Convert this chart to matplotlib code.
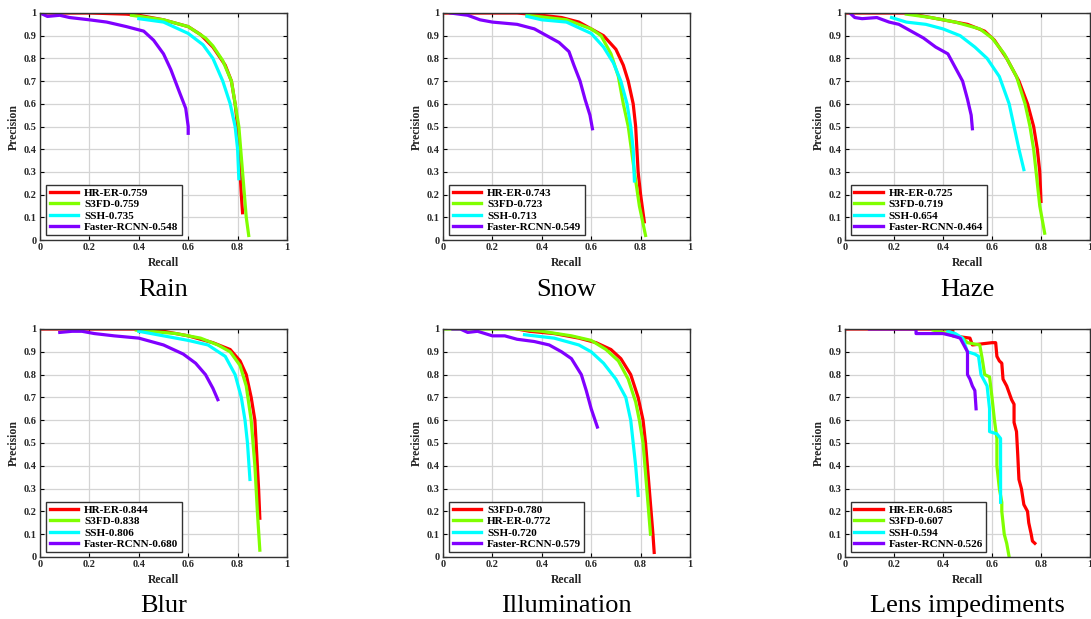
import numpy as np
import matplotlib
matplotlib.use("Agg")
import matplotlib.pyplot as plt

plt.rcParams['font.family'] = ['Liberation Serif', 'DejaVu Serif']

# panel captions
captions = ["Rain", "Snow", "Haze", "Blur", "Illumination", "Lens impediments"]

# legend labels per panel (red, green, cyan, purple)
labels_rain = ["HR-ER-0.759", "S3FD-0.759", "SSH-0.735", "Faster-RCNN-0.548"]
labels_snow = ["HR-ER-0.743", "S3FD-0.723", "SSH-0.713", "Faster-RCNN-0.549"]
labels_haze = ["HR-ER-0.725", "S3FD-0.719", "SSH-0.654", "Faster-RCNN-0.464"]
labels_blur = ["HR-ER-0.844", "S3FD-0.838", "SSH-0.806", "Faster-RCNN-0.680"]
labels_illum = ["S3FD-0.780", "HR-ER-0.772", "SSH-0.720", "Faster-RCNN-0.579"]
labels_lens = ["HR-ER-0.685", "S3FD-0.607", "SSH-0.594", "Faster-RCNN-0.526"]

# (recall, precision) points
rain_red = [(0, 1.0), (0.2, 1.0), (0.35, 0.995), (0.4, 0.99), (0.5, 0.97), (0.6, 0.94), (0.65, 0.905),
            (0.7, 0.85), (0.75, 0.77), (0.775, 0.7), (0.79, 0.6), (0.8, 0.5), (0.81, 0.3), (0.815, 0.2), (0.82, 0.12)]
rain_green = [(0.37, 0.99), (0.5, 0.97), (0.6, 0.94), (0.67, 0.89), (0.7, 0.855), (0.74, 0.79), (0.775, 0.7),
              (0.79, 0.6), (0.805, 0.5), (0.82, 0.3), (0.835, 0.1), (0.845, 0.02)]
rain_cyan = [(0.4, 0.975), (0.5, 0.96), (0.6, 0.91), (0.66, 0.86), (0.7, 0.8), (0.74, 0.7), (0.77, 0.6),
             (0.79, 0.5), (0.8, 0.4), (0.805, 0.27)]
rain_purple = [(0, 1.0), (0.03, 0.985), (0.08, 0.99), (0.12, 0.98), (0.2, 0.97), (0.27, 0.96), (0.35, 0.94),
               (0.42, 0.92), (0.46, 0.88), (0.5, 0.82), (0.53, 0.75), (0.565, 0.65), (0.59, 0.58), (0.6, 0.5), (0.6, 0.47)]

snow_red = [(0, 1.0), (0.3, 1.0), (0.4, 0.99), (0.48, 0.98), (0.55, 0.96), (0.6, 0.93), (0.65, 0.9),
            (0.7, 0.84), (0.73, 0.77), (0.75, 0.7), (0.77, 0.6), (0.78, 0.5), (0.79, 0.3), (0.8, 0.2), (0.815, 0.08)]
snow_green = [(0.34, 0.99), (0.5, 0.97), (0.6, 0.93), (0.64, 0.9), (0.68, 0.82), (0.71, 0.72), (0.73, 0.6),
              (0.75, 0.5), (0.775, 0.3), (0.795, 0.15), (0.82, 0.02)]
snow_cyan = [(0.34, 0.985), (0.4, 0.97), (0.5, 0.96), (0.6, 0.91), (0.65, 0.85), (0.69, 0.78), (0.72, 0.7),
             (0.745, 0.6), (0.76, 0.5), (0.77, 0.4), (0.775, 0.26)]
snow_purple = [(0.03, 1.0), (0.1, 0.99), (0.15, 0.97), (0.2, 0.96), (0.3, 0.95), (0.37, 0.93), (0.42, 0.9),
               (0.47, 0.87), (0.51, 0.83), (0.53, 0.77), (0.555, 0.7), (0.575, 0.62), (0.595, 0.55), (0.605, 0.49)]

haze_red = [(0, 1.0), (0.25, 1.0), (0.3, 0.99), (0.4, 0.97), (0.5, 0.95), (0.57, 0.92), (0.61, 0.88),
            (0.66, 0.8), (0.71, 0.7), (0.745, 0.6), (0.77, 0.5), (0.785, 0.4), (0.795, 0.3), (0.8, 0.17)]
haze_green = [(0.25, 0.995), (0.35, 0.98), (0.45, 0.96), (0.55, 0.93), (0.6, 0.89), (0.65, 0.82), (0.7, 0.72),
              (0.735, 0.6), (0.755, 0.5), (0.77, 0.4), (0.78, 0.3), (0.795, 0.15), (0.815, 0.03)]
haze_cyan = [(0.19, 0.98), (0.25, 0.96), (0.33, 0.95), (0.4, 0.93), (0.47, 0.9), (0.53, 0.85), (0.58, 0.8),
             (0.63, 0.72), (0.67, 0.6), (0.69, 0.5), (0.71, 0.4), (0.73, 0.31)]
haze_purple = [(0.02, 1.0), (0.04, 0.98), (0.07, 0.975), (0.13, 0.98), (0.18, 0.96), (0.22, 0.95), (0.27, 0.92),
               (0.32, 0.89), (0.37, 0.85), (0.42, 0.82), (0.45, 0.76), (0.48, 0.7), (0.5, 0.62), (0.515, 0.55), (0.52, 0.49)]

blur_red = [(0, 1.0), (0.38, 1.0), (0.5, 0.99), (0.6, 0.97), (0.7, 0.94), (0.77, 0.91), (0.81, 0.86),
            (0.835, 0.8), (0.855, 0.7), (0.87, 0.6), (0.875, 0.5), (0.885, 0.3), (0.89, 0.17)]
blur_green = [(0.39, 0.995), (0.55, 0.98), (0.65, 0.96), (0.72, 0.93), (0.77, 0.9), (0.81, 0.84), (0.835, 0.75),
              (0.855, 0.6), (0.87, 0.4), (0.88, 0.2), (0.89, 0.03)]
blur_cyan = [(0.4, 0.99), (0.5, 0.97), (0.6, 0.95), (0.68, 0.93), (0.75, 0.88), (0.79, 0.8), (0.815, 0.7),
             (0.83, 0.6), (0.84, 0.5), (0.85, 0.34)]
blur_purple = [(0.08, 0.985), (0.13, 0.99), (0.17, 0.99), (0.22, 0.98), (0.3, 0.97), (0.4, 0.96), (0.5, 0.93),
               (0.58, 0.89), (0.63, 0.85), (0.67, 0.8), (0.7, 0.74), (0.72, 0.69)]

illum_red = [(0.3, 1.0), (0.35, 0.99), (0.45, 0.98), (0.55, 0.96), (0.62, 0.94), (0.68, 0.91), (0.72, 0.87),
             (0.76, 0.8), (0.79, 0.7), (0.81, 0.6), (0.82, 0.5), (0.835, 0.3), (0.85, 0.1), (0.855, 0.02)]
illum_green = [(0, 1.0), (0.3, 1.0), (0.4, 0.99), (0.52, 0.97), (0.6, 0.95), (0.66, 0.91), (0.71, 0.86),
               (0.75, 0.78), (0.78, 0.68), (0.795, 0.6), (0.81, 0.5), (0.825, 0.3), (0.84, 0.1)]
illum_cyan = [(0.33, 0.975), (0.45, 0.96), (0.55, 0.93), (0.6, 0.9), (0.65, 0.85), (0.7, 0.78), (0.74, 0.7),
              (0.76, 0.6), (0.77, 0.5), (0.78, 0.4), (0.79, 0.27)]
illum_purple = [(0.04, 1.0), (0.07, 1.0), (0.1, 0.985), (0.14, 0.99), (0.2, 0.97), (0.25, 0.97), (0.3, 0.955),
                (0.37, 0.945), (0.43, 0.93), (0.48, 0.9), (0.52, 0.87), (0.56, 0.8), (0.58, 0.73), (0.6, 0.65), (0.625, 0.57)]

lens_red = [(0, 1.0), (0.44, 1.0), (0.44, 0.97), (0.51, 0.96), (0.52, 0.93), (0.56, 0.935), (0.6, 0.94),
            (0.615, 0.94), (0.62, 0.88), (0.63, 0.86), (0.64, 0.85), (0.645, 0.78), (0.66, 0.75), (0.67, 0.72),
            (0.68, 0.69), (0.69, 0.67), (0.69, 0.59), (0.7, 0.55), (0.705, 0.45), (0.71, 0.34), (0.72, 0.3),
            (0.73, 0.23), (0.745, 0.2), (0.75, 0.15), (0.76, 0.1), (0.765, 0.07), (0.775, 0.06)]
lens_green = [(0.36, 0.995), (0.42, 0.98), (0.48, 0.96), (0.5, 0.94), (0.55, 0.93), (0.56, 0.87), (0.57, 0.8),
              (0.59, 0.79), (0.6, 0.7), (0.61, 0.6), (0.62, 0.52), (0.62, 0.4), (0.63, 0.3), (0.64, 0.24),
              (0.64, 0.2), (0.65, 0.1), (0.66, 0.06), (0.67, 0.0)]
lens_cyan = [(0.42, 0.99), (0.45, 0.98), (0.48, 0.96), (0.5, 0.9), (0.53, 0.89), (0.545, 0.88), (0.555, 0.8),
             (0.58, 0.75), (0.59, 0.65), (0.59, 0.55), (0.62, 0.54), (0.635, 0.52), (0.635, 0.4), (0.635, 0.24)]
lens_purple = [(0.1, 1.0), (0.29, 1.0), (0.29, 0.98), (0.4, 0.98), (0.44, 0.97), (0.47, 0.96), (0.49, 0.92),
               (0.5, 0.9), (0.5, 0.8), (0.51, 0.78), (0.52, 0.75), (0.53, 0.73), (0.535, 0.65)]

colors = ['#ff0000', '#80ff00', '#00ffff', '#8000ff']

panels = [
    (labels_rain, [rain_red, rain_green, rain_cyan, rain_purple]),
    (labels_snow, [snow_red, snow_green, snow_cyan, snow_purple]),
    (labels_haze, [haze_red, haze_green, haze_cyan, haze_purple]),
    (labels_blur, [blur_red, blur_green, blur_cyan, blur_purple]),
    (labels_illum, [illum_red, illum_green, illum_cyan, illum_purple]),
    (labels_lens, [lens_red, lens_green, lens_cyan, lens_purple]),
]

fig = plt.figure(figsize=(10.91, 6.19), dpi=100)

lefts = [40 / 1091, 443 / 1091, 845 / 1091]
widths = [247 / 1091, 247 / 1091, 245 / 1091]
bottoms = [1 - 240 / 619, 1 - 557 / 619]
heights = [227 / 619, 228 / 619]
caption_y = [1 - 290 / 619, 1 - 606 / 619]

xticks = np.arange(0, 1.01, 0.2)
yticks = np.arange(0, 1.01, 0.1)


def tick_text(v):
    v = round(v, 1)
    if v == 0:
        return '0'
    if v == 1:
        return '1'
    return '%.1f' % v


for i, (labels, series) in enumerate(panels):
    row, col = divmod(i, 3)
    ax = fig.add_axes([lefts[col], bottoms[row], widths[col], heights[row]])
    for pts, c, lab in zip(series, colors, labels):
        arr = np.array(pts)
        ax.plot(arr[:, 0], arr[:, 1], color=c, lw=2.3, label=lab)
    ax.set_xlim(0, 1)
    ax.set_ylim(0, 1)
    ax.set_xticks(xticks)
    ax.set_yticks(yticks)
    ax.set_xticklabels([tick_text(v) for v in xticks])
    ax.set_yticklabels([tick_text(v) for v in yticks])
    ax.tick_params(direction='in', length=3, width=0.8, top=True, right=True,
                   labelsize=7.5, pad=2.5, labelcolor='#262626')
    for t in ax.get_xticklabels() + ax.get_yticklabels():
        t.set_fontweight('bold')
    ax.grid(True, color='#d4d4d4', lw=0.9)
    ax.set_axisbelow(True)
    for s in ax.spines.values():
        s.set_color('#333333')
        s.set_linewidth(1.0)
    ax.set_xlabel('Recall', fontsize=8.5, fontweight='bold', labelpad=3, color='#262626')
    ax.set_ylabel('Precision', fontsize=8.5, fontweight='bold', labelpad=3, color='#262626')
    leg = ax.legend(loc='lower left', bbox_to_anchor=(0.025, 0.02), fancybox=False,
                    framealpha=1, edgecolor='#333333', borderpad=0.3, labelspacing=0.15,
                    handlelength=2.6, handletextpad=0.5, borderaxespad=0,
                    prop={'size': 8, 'weight': 'bold'})
    leg.get_frame().set_linewidth(1.0)
    for ln in leg.get_lines():
        ln.set_linewidth(2.4)
    fig.text(lefts[col] + widths[col] / 2, caption_y[row], captions[i],
             ha='center', va='center', fontsize=19)

fig.savefig('out.png', dpi=100)
